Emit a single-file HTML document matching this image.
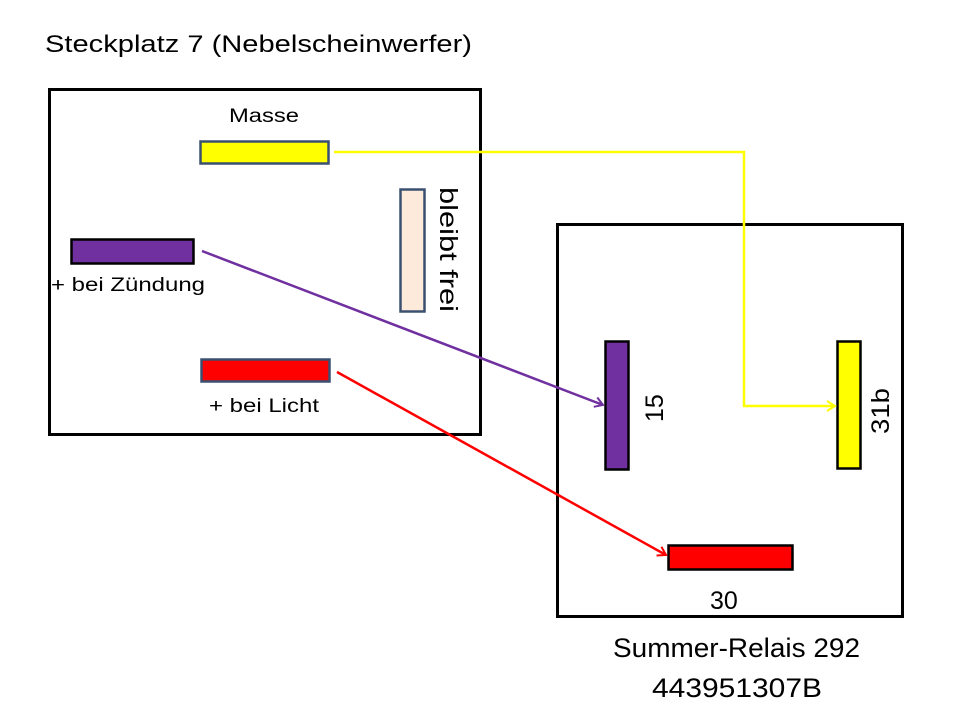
<!DOCTYPE html>
<html><head><meta charset="utf-8"><style>html,body{margin:0;padding:0;background:#fff}svg{display:block}</style></head>
<body>
<svg width="960" height="720" viewBox="0 0 960 720" xmlns="http://www.w3.org/2000/svg" font-family="Liberation Sans, sans-serif" fill="#000">
<defs>
<marker id="ay" markerWidth="12" markerHeight="12" refX="10" refY="6" orient="auto" markerUnits="userSpaceOnUse"><path d="M2,1 L10,6 L2,11" fill="none" stroke="#ffff00" stroke-width="2"/></marker>
<marker id="ap" markerWidth="12" markerHeight="12" refX="10" refY="6" orient="auto" markerUnits="userSpaceOnUse"><path d="M2,1 L10,6 L2,11" fill="none" stroke="#7030a0" stroke-width="2"/></marker>
<marker id="ar" markerWidth="12" markerHeight="12" refX="10" refY="6" orient="auto" markerUnits="userSpaceOnUse"><path d="M2,1 L10,6 L2,11" fill="none" stroke="#ff0000" stroke-width="2"/></marker>
</defs>
<text x="45" y="52" font-size="24" textLength="427" lengthAdjust="spacingAndGlyphs">Steckplatz 7 (Nebelscheinwerfer)</text>
<rect x="49.5" y="89.5" width="431" height="345" fill="none" stroke="#000" stroke-width="3"/>
<rect x="557.5" y="224.5" width="345" height="392" fill="none" stroke="#000" stroke-width="3"/>
<text x="229" y="122" font-size="19" textLength="70" lengthAdjust="spacingAndGlyphs">Masse</text>
<rect x="200.5" y="141.5" width="128" height="22" fill="#ffff00" stroke="#3a5070" stroke-width="2.5"/>
<rect x="71.5" y="239.5" width="122" height="24" fill="#7030a0" stroke="#000" stroke-width="2.5"/>
<text x="51" y="291" font-size="19" textLength="154" lengthAdjust="spacingAndGlyphs">+ bei Zündung</text>
<rect x="400.5" y="189.5" width="24" height="122" fill="#fdeada" stroke="#3a5070" stroke-width="2.5"/>
<text transform="translate(440,187) rotate(90)" font-size="25" textLength="125" lengthAdjust="spacingAndGlyphs">bleibt frei</text>
<rect x="201.5" y="359.5" width="128" height="22" fill="#ff0000" stroke="#3a5070" stroke-width="2.5"/>
<text x="209" y="412" font-size="19" textLength="110" lengthAdjust="spacingAndGlyphs">+ bei Licht</text>
<rect x="605.5" y="341.5" width="23" height="128" fill="#7030a0" stroke="#000" stroke-width="2.5"/>
<rect x="837.5" y="341.5" width="23" height="127" fill="#ffff00" stroke="#000" stroke-width="2.5"/>
<rect x="668.5" y="545.5" width="124" height="24" fill="#ff0000" stroke="#000" stroke-width="2.5"/>
<text transform="translate(663,422) rotate(-90)" font-size="25">15</text>
<text transform="translate(889,434) rotate(-90)" font-size="25" textLength="46" lengthAdjust="spacingAndGlyphs">31b</text>
<text x="710" y="609" font-size="25">30</text>
<polyline points="334,152 744,152 744,406 835,406" fill="none" stroke="#ffff00" stroke-width="2.5" marker-end="url(#ay)"/>
<line x1="202" y1="251" x2="603" y2="405" stroke="#7030a0" stroke-width="2.5" marker-end="url(#ap)"/>
<line x1="337" y1="372" x2="666" y2="555" stroke="#ff0000" stroke-width="2.5" marker-end="url(#ar)"/>
<text x="613" y="657" font-size="27" textLength="247" lengthAdjust="spacingAndGlyphs">Summer-Relais 292</text>
<text x="652" y="697" font-size="27" textLength="170" lengthAdjust="spacingAndGlyphs">443951307B</text>
</svg>
</body></html>
